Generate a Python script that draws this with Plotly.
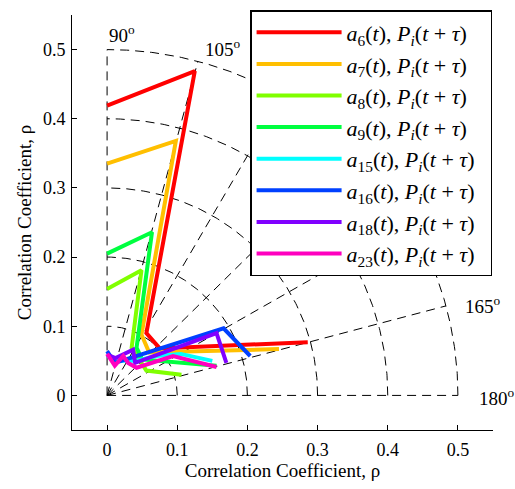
import numpy as np
import plotly.graph_objects as go

# ---- data ----
names = ["6", "7", "8", "9", "15", "16", "18", "23"]
colors = ["#FF0000", "#FFBF00", "#80FF00", "#00FF40", "#00FFFF", "#0040FF", "#8000FF", "#FF00BF"]

a6_x = [0.0, 0.125, 0.056, 0.075, 0.286]
a6_y = [0.419, 0.469, 0.090, 0.068, 0.077]
a7_x = [0.0, 0.098, 0.049, 0.060, 0.245]
a7_y = [0.335, 0.368, 0.088, 0.062, 0.067]
a8_x = [0.0, 0.049, 0.035, 0.056, 0.106]
a8_y = [0.154, 0.181, 0.069, 0.036, 0.030]
a9_x = [0.0, 0.064, 0.042, 0.050, 0.156]
a9_y = [0.205, 0.236, 0.069, 0.052, 0.043]
a15_x = [0.0, 0.010, 0.040, 0.070, 0.105, 0.150]
a15_y = [0.058, 0.050, 0.050, 0.057, 0.060, 0.050]
a16_x = [0.0, 0.011, 0.166, 0.204]
a16_y = [0.064, 0.047, 0.097, 0.057]
a18_x = [0.0, 0.012, 0.037, 0.040, 0.156, 0.170]
a18_y = [0.059, 0.054, 0.066, 0.047, 0.090, 0.047]
a23_x = [0.0, 0.011, 0.023, 0.030, 0.042, 0.094, 0.156]
a23_y = [0.060, 0.043, 0.057, 0.047, 0.040, 0.057, 0.041]

series_x = [a6_x, a7_x, a8_x, a9_x, a15_x, a16_x, a18_x, a23_x]
series_y = [a6_y, a7_y, a8_y, a9_y, a15_y, a16_y, a18_y, a23_y]

grid_radii = [0.1, 0.2, 0.3, 0.4, 0.5]
grid_angles_deg = [0, 15, 30, 45, 60, 75, 90]   # plot angle; label = 180 - angle
angle_labels = ["90", "105", "165", "180"]
angle_label_pos = [(0.0, 0.522), (0.137, 0.503), (0.507, 0.131), (0.527, -0.003)]
ticks = [0, 0.1, 0.2, 0.3, 0.4, 0.5]
tick_text = ["0", "0.1", "0.2", "0.3", "0.4", "0.5"]

FONT = "Liberation Serif"
fig = go.Figure()

# ---- polar grid ----
gx, gy = [], []
t = np.linspace(0, np.pi / 2, 200)
for r in grid_radii:
    gx += list(r * np.cos(t)) + [None]
    gy += list(r * np.sin(t)) + [None]
for a in grid_angles_deg:
    th = np.deg2rad(a)
    gx += [0, 0.5 * np.cos(th), None]
    gy += [0, 0.5 * np.sin(th), None]
fig.add_trace(go.Scatter(x=gx, y=gy, mode="lines", showlegend=False, hoverinfo="skip",
                         line=dict(color="black", width=1, dash="9px,6px")))

# ---- data series ----
for n, c, xs, ys in zip(names, colors, series_x, series_y):
    label = ("<i>a</i><sub>%s</sub>(<i>t</i>),&nbsp;<i>P</i><sub><i>i</i></sub>(<i>t</i>&nbsp;+&nbsp;<i>τ</i>)&nbsp;&nbsp;" % n)
    fig.add_trace(go.Scatter(x=xs, y=ys, mode="lines", name=label, legendgroup=n,
                             line=dict(color=c, width=4)))

for txt, (px, py) in zip(angle_labels, angle_label_pos):
    fig.add_annotation(x=px, y=py, text=txt + "<sup>o</sup>", showarrow=False,
                       xanchor="left", yanchor="middle",
                       font=dict(family=FONT, size=19, color="black"))

axis_common = dict(range=[-0.05, 0.55], showline=True, linecolor="black", linewidth=1,
                   ticks="inside", ticklen=5, tickcolor="black", showgrid=False,
                   zeroline=False, tickvals=ticks, ticktext=tick_text, automargin=False,
                   tickfont=dict(family=FONT, size=18, color="black"))
fig.update_xaxes(**axis_common, ticklabelstandoff=3,
                 title=dict(text="Correlation Coefficient, ρ", standoff=5,
                            font=dict(family=FONT, size=19, color="black")))
fig.update_yaxes(**axis_common, ticklabelstandoff=2,
                 title=dict(text="Correlation Coefficient, ρ", standoff=6,
                            font=dict(family=FONT, size=19, color="black")))

fig.update_layout(
    width=515, height=489,
    margin=dict(l=72, r=22, t=10, b=59),
    plot_bgcolor="white", paper_bgcolor="white",
    legend=dict(x=0.423, y=1.012, xanchor="left", yanchor="top",
                bgcolor="white", bordercolor="black", borderwidth=1.5,
                font=dict(family=FONT, size=22, color="black"),
                tracegroupgap=0, itemwidth=85, maxheight=400),
)
fig.write_html("out.html")
